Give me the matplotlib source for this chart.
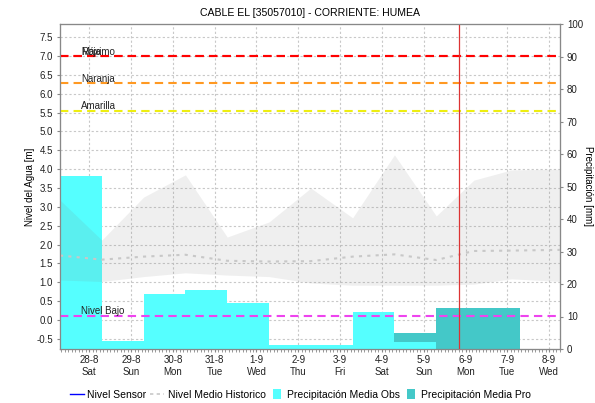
import matplotlib
matplotlib.use("Agg")
import matplotlib.pyplot as plt
from matplotlib.lines import Line2D
from matplotlib.ticker import MultipleLocator

plt.rcParams["font.family"] = ["Liberation Sans", "DejaVu Sans"]
plt.rcParams["axes.unicode_minus"] = False

titulo = "CABLE EL [35057010] - CORRIENTE: HUMEA"

# dias del eje x (0 = 28-8)
dias = list(range(12))
etiquetas_dias = ["28-8\nSat", "29-8\nSun", "30-8\nMon", "31-8\nTue", "1-9\nWed", "2-9\nThu",
                  "3-9\nFri", "4-9\nSat", "5-9\nSun", "6-9\nMon", "7-9\nTue", "8-9\nWed"]

# precipitacion observada [mm], barras diarias (inicio de cada barra en dias)
obs_inicio = [-0.7, 0.3, 1.3, 2.3, 3.3, 4.3, 5.3, 6.3, 7.3]
obs_mm = [53.2, 2.6, 16.9, 18.2, 14.2, 1.2, 1.2, 11.5, 2.3]

# precipitacion pronosticada [mm]
pro_inicio = [7.3, 8.3, 9.3]
pro_mm = [5.0, 12.7, 12.7]

# nivel historico [m]: minimo, medio y maximo
hist_t = [-0.7, 0.3, 1.3, 2.3, 3.3, 4.3, 5.3, 6.3, 7.3, 8.3, 9.2, 10.1, 11.3]
hist_min = [1.06, 1.02, 1.15, 1.25, 1.19, 1.15, 0.98, 0.92, 0.92, 0.92, 0.95, 1.09, 1.02]
hist_medio = [1.71, 1.60, 1.68, 1.73, 1.57, 1.55, 1.56, 1.68, 1.74, 1.59, 1.83, 1.84, 1.86]
hist_max = [3.18, 2.12, 3.26, 3.85, 2.20, 2.60, 3.50, 2.71, 4.38, 2.76, 3.71, 3.98, 4.00]

# nivel del sensor (sin datos en el periodo)
sensor_t = []
sensor_nivel = []

# umbrales [m]
umbrales = [("Máximo", 7.0, "#FF0000"), ("Roja", 7.0, "#FF0000"),
            ("Naranja", 6.28, "#FF9922"), ("Amarilla", 5.55, "#EEEE11"),
            ("Nivel Bajo", 0.11, "#EE44EE")]

ahora = 8.84

gris = "#888888"
texto = "#222222"
fig = plt.figure(figsize=(5.95, 4.03), dpi=100)
pos = [60 / 595, 54 / 403, 500 / 595, 325 / 403]

# eje base: escala de nivel y rejilla
ax = fig.add_axes(pos)
ax.set_xlim(-0.7, 11.26)
ax.set_ylim(-0.77, 7.85)
ax.yaxis.set_major_locator(MultipleLocator(0.5))
ax.set_xticks(dias)
ax.set_xticklabels(etiquetas_dias, linespacing=1.35)
ax.xaxis.set_minor_locator(MultipleLocator(1 / 12))
ax.grid(True, color="#C8C8C8", linestyle=(0, (2, 2)), linewidth=0.8)
ax.set_ylabel("Nivel del Agua [m]", fontsize=7, labelpad=1)
ax.set_title(titulo, fontsize=7.6, pad=6)

# eje de precipitacion (derecha)
axp = ax.twinx()
axp.set_ylim(0, 100)
axp.yaxis.set_major_locator(MultipleLocator(10))
axp.set_xlim(ax.get_xlim())
axp.bar(pro_inicio, pro_mm, width=1.0, align="edge", color="#44C8C8", linewidth=0)
axp.bar(obs_inicio, obs_mm, width=1.0, align="edge", color="#55FFFF", linewidth=0)
axp.set_ylabel("Precipitación [mm]", fontsize=7, rotation=-90, labelpad=7)

# eje superior para niveles, encima de las barras
axn = ax.twinx()
axn.sharey(ax)
axn.set_xlim(ax.get_xlim())
axn.patch.set_visible(False)
axn.tick_params(right=False, labelright=False)
axn.fill_between(hist_t, hist_min, hist_max, color="#808080", alpha=0.12, linewidth=0)
axn.plot(hist_t, hist_medio, color="#C8C8C8", linestyle=(0, (1.5, 2.5)), linewidth=1.5)
axn.plot(sensor_t, sensor_nivel, color="#0000FF", linewidth=1)
for nombre, valor, color in umbrales:
    axn.axhline(valor, color=color, linestyle=(0, (4, 2.5)), linewidth=1.5)
    axn.text(-0.2, valor + 0.04, nombre, fontsize=7, color=texto, va="baseline")
axn.axvline(ahora, color="#DD3333", linewidth=0.9)

for a in (ax, axp, axn):
    for s in a.spines.values():
        s.set_color(gris)
ax.tick_params(axis="both", which="major", labelsize=7, length=2.5, pad=2.5, color=gris, labelcolor=texto)
ax.tick_params(axis="x", which="major", pad=1.5)
ax.tick_params(axis="x", which="minor", length=2, color=gris)
axp.tick_params(axis="y", labelsize=7, length=2.5, pad=2.5, color=gris, labelcolor=texto)

caja = [(-0.35, -0.5), (0.35, -0.5), (0.35, 0.5), (-0.35, 0.5)]
handles = [
    Line2D([], [], color="#0000FF", linewidth=1),
    Line2D([], [], color="#C8C8C8", linestyle=(0, (2, 2)), linewidth=1.2),
    Line2D([], [], linestyle="none", marker=caja, markersize=7.5, color="#55FFFF", markeredgewidth=0),
    Line2D([], [], linestyle="none", marker=caja, markersize=7.5, color="#44C8C8", markeredgewidth=0),
]
labels = ["Nivel Sensor", "Nivel Medio Historico", "Precipitación Media Obs", "Precipitación Media Pro"]
fig.legend(handles, labels, loc="lower center", bbox_to_anchor=(0.505, -0.016), ncol=4, frameon=False,
           fontsize=7.5, handlelength=1.35, handletextpad=0.3, columnspacing=0.4)

fig.savefig("out.png", dpi=100)
